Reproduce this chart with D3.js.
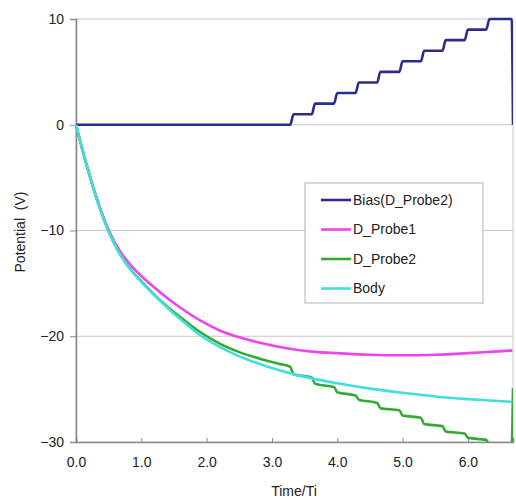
<!DOCTYPE html>
<html>
<head>
<meta charset="utf-8">
<script src="https://cdn.jsdelivr.net/npm/d3@7"></script>
<style>
  body { margin: 0; background: #fff; }
  svg { font-family: "Liberation Sans", Arial, sans-serif; }
</style>
</head>
<body>
<svg width="516" height="499"></svg>
<script>
// time axis in units of Ti, potential in volts
const seriesNames = ['Bias(D_Probe2)', 'D_Probe1', 'D_Probe2', 'Body'];
const seriesColors = ['#2c2c8c', '#ee44ee', '#33aa33', '#44dddd'];

const xTicks = [0, 1, 2, 3, 4, 5, 6];
const yTicks = [10, 0, -10, -20, -30];

const bias = [
    [0, 0], [3.28, 0], [3.33, 1], [3.61, 1], [3.66, 2], [3.95, 2], [4.00, 3], [4.28, 3],
    [4.33, 4], [4.61, 4], [4.66, 5], [4.95, 5], [5.00, 6], [5.28, 6], [5.33, 7], [5.61, 7],
    [5.66, 8], [5.95, 8], [6.00, 9], [6.28, 9], [6.33, 10], [6.67, 10], [6.69, 0]
];

const probe1 = [
    [0, 0], [0.1, -2.4], [0.2, -4.6], [0.3, -6.6], [0.4, -8.4], [0.5, -9.95], [0.6, -11.2],
    [0.7, -12.2], [0.8, -13.0], [0.9, -13.7], [1.0, -14.3], [1.2, -15.4], [1.4, -16.4],
    [1.6, -17.3], [1.9, -18.5], [2.2, -19.45], [2.5, -20.1], [2.8, -20.6], [3.1, -21.0],
    [3.4, -21.3], [3.7, -21.5], [4.0, -21.6], [4.5, -21.75], [5.0, -21.8], [5.5, -21.75],
    [6.0, -21.6], [6.4, -21.45], [6.68, -21.35]
];

const probe2 = [
    [0, 0], [0.1, -2.4], [0.2, -4.6], [0.3, -6.7], [0.4, -8.5], [0.5, -10.1], [0.6, -11.4],
    [0.7, -12.5], [0.8, -13.4], [0.9, -14.15], [1.0, -14.8], [1.2, -16.1], [1.4, -17.2],
    [1.6, -18.2], [1.9, -19.6], [2.2, -20.7], [2.5, -21.5], [2.8, -22.1], [3.1, -22.6],
    [3.28, -22.9], [3.33, -23.6], [3.61, -23.9], [3.66, -24.5], [3.95, -24.8], [4.00, -25.3],
    [4.28, -25.6], [4.33, -26.0], [4.61, -26.3], [4.66, -26.8], [4.95, -27.0], [5.00, -27.5],
    [5.28, -27.7], [5.33, -28.3], [5.61, -28.5], [5.66, -29.0], [5.95, -29.2], [6.00, -29.6],
    [6.28, -29.8], [6.33, -30.3], [6.67, -30.3], [6.69, -24.9]
];

const body = [
    [0, 0], [0.1, -2.4], [0.2, -4.6], [0.3, -6.7], [0.4, -8.5], [0.5, -10.1], [0.6, -11.4],
    [0.7, -12.5], [0.8, -13.4], [0.9, -14.15], [1.0, -14.85], [1.2, -16.1], [1.4, -17.3],
    [1.6, -18.4], [1.9, -19.9], [2.2, -21.0], [2.5, -21.9], [2.8, -22.6], [3.1, -23.2],
    [3.4, -23.7], [3.7, -24.1], [4.0, -24.45], [4.5, -24.95], [5.0, -25.35], [5.5, -25.7],
    [6.0, -25.95], [6.4, -26.1], [6.68, -26.2]
];

const allSeries = [bias, probe1, probe2, body];

const svg = d3.select('svg');
const margin = { left: 76, top: 19, right: 3, bottom: 57 };
const width = 516 - margin.left - margin.right;
const height = 499 - margin.top - margin.bottom;

const x = d3.scaleLinear().domain([0, 6.69]).range([0, width]);
const y = d3.scaleLinear().domain([-30, 10]).range([height, 0]);

const g = svg.append('g').attr('transform', `translate(${margin.left},${margin.top})`);

// gridlines
g.selectAll('.grid')
    .data(yTicks.filter(d => d > -30 && d < 10))
    .enter().append('line')
    .attr('x1', 0).attr('x2', width)
    .attr('y1', d => y(d)).attr('y2', d => y(d))
    .attr('stroke', '#c8c8c8').attr('stroke-width', 1);

// frame top/right
g.append('rect')
    .attr('x', 0).attr('y', 0).attr('width', width).attr('height', height)
    .attr('fill', 'none').attr('stroke', '#c8c8c8').attr('stroke-width', 1);

const fmtY = d => (d < 0 ? '\u2212' + Math.abs(d) : String(d));

const yAxis = g.append('g')
    .call(d3.axisLeft(y).tickValues(yTicks).tickSize(6).tickPadding(6).tickFormat(fmtY));
const xAxis = g.append('g')
    .attr('transform', `translate(0,${height})`)
    .call(d3.axisBottom(x).tickValues(xTicks).tickSize(-4).tickPadding(15).tickFormat(d3.format('.1f')));

[yAxis, xAxis].forEach(a => {
    a.select('.domain').attr('stroke', '#8a8a8a').attr('stroke-width', 1.6);
    a.selectAll('.tick line').attr('stroke', '#8a8a8a').attr('stroke-width', 1);
    a.selectAll('.tick text').attr('fill', '#222').style('font-size', '14px');
});
xAxis.selectAll('.tick').filter(d => d === 0).select('line').remove();

// clip for lines
svg.append('clipPath').attr('id', 'plotClip')
    .append('rect').attr('x', -2).attr('y', -2).attr('width', width + 2).attr('height', height + 2);

const line = d3.line()
    .x(d => x(d[0]))
    .y(d => y(d[1]))
    .curve(d3.curveMonotoneX);

const lines = g.append('g').attr('clip-path', 'url(#plotClip)');
lines.selectAll('path')
    .data(allSeries)
    .enter().append('path')
    .attr('d', line)
    .attr('fill', 'none')
    .attr('stroke', (d, i) => seriesColors[i])
    .attr('stroke-width', 2.6)
    .attr('stroke-linejoin', 'round');

// legend
const legend = svg.append('g').attr('transform', 'translate(305,183)');
legend.append('rect')
    .attr('width', 178).attr('height', 120)
    .attr('fill', '#fff').attr('stroke', '#b0b0b0').attr('stroke-width', 1);
const items = legend.selectAll('.item')
    .data(seriesNames)
    .enter().append('g')
    .attr('transform', (d, i) => `translate(0,${17 + i * 29.5})`);
items.append('line')
    .attr('x1', 16).attr('x2', 46)
    .attr('stroke', (d, i) => seriesColors[i])
    .attr('stroke-width', 2.6);
items.append('text')
    .attr('x', 48).attr('dy', '0.35em')
    .attr('fill', '#222')
    .style('font-size', '14px')
    .text(d => d);

// axis titles
svg.append('text')
    .attr('x', 294).attr('y', 496)
    .attr('text-anchor', 'middle')
    .attr('fill', '#222')
    .style('font-size', '14px')
    .text('Time/Ti');

svg.append('text')
    .attr('transform', 'translate(25,232) rotate(-90)')
    .attr('text-anchor', 'middle')
    .attr('fill', '#222')
    .style('font-size', '14px')
    .style('white-space', 'pre')
    .text('Potential  (V)');
</script>
</body>
</html>
